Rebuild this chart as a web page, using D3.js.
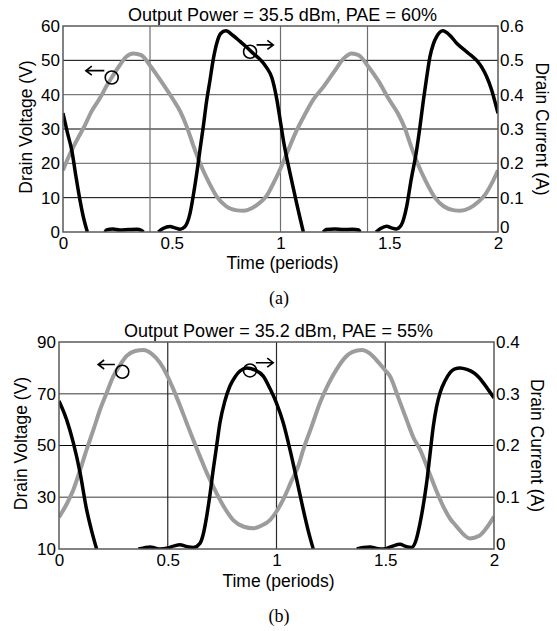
<!DOCTYPE html>
<html lang="en">
<head>
<meta charset="UTF-8">
<title>Drain waveforms</title>
<script src="https://d3js.org/d3.v7.min.js"></script>
<style>
  body { margin: 0; background: #fff; }
  svg { display: block; }
  .tick text { font: 17px "Liberation Sans", Arial, sans-serif; fill: #000; }
  .lbl { font: 17.5px "Liberation Sans", Arial, sans-serif; fill: #000; }
  .ttl { font: 18px "Liberation Sans", Arial, sans-serif; fill: #000; }
  .cap { font: 18px "Liberation Serif", "Times New Roman", serif; fill: #000; }
</style>
</head>
<body>
<svg id="chart" width="557" height="631"></svg>
<script>
// ---- panel (a) data ----
var timeTicks = [0, 0.5, 1, 1.5, 2];

var voltA_t = [0, 0.03, 0.07, 0.1, 0.13, 0.17, 0.2, 0.224, 0.26, 0.29, 0.323, 0.36, 0.4, 0.45, 0.507, 0.54, 0.569, 0.6, 0.63, 0.67, 0.707, 0.75, 0.8, 0.829, 0.87, 0.91, 0.936, 0.97,
               1.0, 1.03, 1.07, 1.11, 1.15, 1.2, 1.25, 1.29, 1.327, 1.36, 1.4, 1.45, 1.5, 1.54, 1.57, 1.6, 1.63, 1.67, 1.71, 1.75, 1.8, 1.825, 1.87, 1.91, 1.94, 1.97, 2.0];
var voltA_v = [18, 22.5, 27.5, 31, 35, 39, 42.5, 45, 48.5, 51, 52, 51.5, 48.5, 44, 38.5, 35, 30.7, 25, 20, 14.5, 10.3, 7.5, 6.3, 6.2, 7, 8.8, 10.5, 14.5,
               18.5, 23, 29, 34, 38.5, 42.5, 47, 50.5, 52, 51.5, 48.5, 44, 38.5, 34.5, 30.5, 25, 20, 14.5, 10, 7.5, 6.3, 6.2, 7, 8.8, 10.8, 14, 18];

// null = curve off the bottom of the scale
var currA_t = [0, 0.02, 0.04, 0.06, 0.078, 0.095, 0.112, 0.15, 0.193, 0.2, 0.23, 0.26, 0.3, 0.34, 0.36, 0.37, 0.4, 0.438, 0.46, 0.492, 0.515, 0.538, 0.56, 0.584, 0.6, 0.615, 0.63, 0.645, 0.66, 0.676, 0.69, 0.707, 0.725, 0.749, 0.78, 0.814, 0.845, 0.875, 0.91, 0.937, 0.96, 0.982,
               1.0, 1.013, 1.044, 1.074, 1.09, 1.105, 1.15, 1.197, 1.21, 1.25, 1.29, 1.33, 1.36, 1.366, 1.4, 1.439, 1.46, 1.488, 1.51, 1.533, 1.555, 1.58, 1.6, 1.626, 1.642, 1.657, 1.672, 1.687, 1.703, 1.718, 1.746, 1.78, 1.81, 1.85, 1.875, 1.902, 1.925, 1.948, 1.97, 1.99, 2.0];
var currA_i = [0.346, 0.29, 0.239, 0.16, 0.093, 0.04, 0, null, 0, 0.006, 0.009, 0.006, 0.007, 0.008, 0.005, 0, null, 0, 0.01, 0.016, 0.012, 0.008, 0.015, 0.054, 0.11, 0.171, 0.24, 0.307, 0.38, 0.443, 0.5, 0.55, 0.578, 0.586, 0.573, 0.555, 0.538, 0.52, 0.5, 0.478, 0.45, 0.39,
               0.32, 0.268, 0.171, 0.084, 0.04, 0, null, 0, 0.007, 0.009, 0.007, 0.008, 0.006, 0, null, 0, 0.01, 0.017, 0.012, 0.009, 0.02, 0.074, 0.15, 0.239, 0.31, 0.384, 0.45, 0.51, 0.548, 0.569, 0.586, 0.572, 0.55, 0.528, 0.515, 0.5, 0.48, 0.452, 0.415, 0.37, 0.346];

// ---- panel (b) data ----
var voltB_t = [0, 0.033, 0.066, 0.097, 0.127, 0.158, 0.189, 0.22, 0.25, 0.28, 0.311, 0.35, 0.388, 0.425, 0.464, 0.495, 0.526, 0.556, 0.587, 0.618, 0.648, 0.679, 0.709, 0.75, 0.801, 0.85, 0.893, 0.93, 0.97,
               1.0, 1.03, 1.07, 1.1, 1.123, 1.16, 1.2, 1.24, 1.277, 1.31, 1.35, 1.392, 1.43, 1.47, 1.5, 1.522, 1.56, 1.6, 1.63, 1.66, 1.7, 1.735, 1.767, 1.8, 1.82, 1.85, 1.89, 1.93, 1.96, 2.0];
var voltB_v = [22.3, 27, 32.9, 40.5, 48.4, 56, 63.9, 70.5, 76.8, 81, 84.6, 86.5, 86.9, 85.5, 82, 77.5, 71.7, 65.5, 58.7, 52, 45.8, 39.5, 34.2, 27.5, 21.2, 18.6, 18, 19, 21.2,
               24.5, 29, 36.5, 42, 48.4, 57, 66.5, 74, 79.5, 83.5, 86.2, 86.9, 85.5, 82, 79, 76.8, 68.5, 59.5, 53, 48.4, 40, 32.5, 26.4, 21.5, 19.5, 16.5, 14.1, 15, 17.5, 22.5];

var currB_t = [0, 0.035, 0.066, 0.097, 0.127, 0.15, 0.173, 0.25, 0.365, 0.39, 0.419, 0.44, 0.465, 0.5, 0.53, 0.556, 0.585, 0.618, 0.648, 0.664, 0.679, 0.694, 0.709, 0.725, 0.74, 0.762, 0.786, 0.81, 0.832, 0.863, 0.9, 0.939, 0.97,
               1.0, 1.031, 1.062, 1.093, 1.123, 1.146, 1.169, 1.25, 1.369, 1.4, 1.43, 1.46, 1.492, 1.53, 1.568, 1.595, 1.62, 1.64, 1.66, 1.675, 1.69, 1.705, 1.721, 1.736, 1.752, 1.775, 1.798, 1.82, 1.844, 1.875, 1.905, 1.93, 1.951, 1.975, 2.0];
var currB_i = [0.286, 0.25, 0.205, 0.147, 0.076, 0.035, 0, null, 0, 0.002, 0.004, 0.002, 0, 0.002, 0.006, 0.008, 0.005, 0.003, 0.011, 0.03, 0.063, 0.105, 0.153, 0.2, 0.244, 0.285, 0.315, 0.333, 0.344, 0.35, 0.346, 0.334, 0.31,
               0.282, 0.244, 0.192, 0.134, 0.076, 0.035, 0, null, 0, 0.003, 0.004, 0.001, 0, 0.005, 0.009, 0.005, 0.003, 0.015, 0.05, 0.085, 0.127, 0.18, 0.237, 0.275, 0.302, 0.325, 0.341, 0.348, 0.35, 0.347, 0.341, 0.332, 0.321, 0.307, 0.292];

var panels = [
  {
    title: "Output Power = 35.5 dBm, PAE = 60%", caption: "(a)",
    box: {left: 63, right: 498, top: 26, bottom: 232},
    vDomain: [0, 60], vTicks: [0, 10, 20, 30, 40, 50, 60],
    iDomain: [0, 0.6], iTicks: [0, 0.1, 0.2, 0.3, 0.4, 0.5, 0.6],
    hGrid: [10, 20, 30, 40, 50], hGridGray: [20, 40],
    vGrid: [0.4, 1, 1.4], vGridColor: "#6e6e6e",
    volt: [voltA_t, voltA_v], curr: [currA_t, currA_i],
    vMark: {t: 0.224, v: 45, a0: 0.19, a1: 0.105, av: 47},
    iMark: {t: 0.86, i: 0.525, a0: 0.89, a1: 0.967, ai: 0.545},
    titleY: 21, vLabelX: 26, iLabelX: 542, timeY: 269, capY: 304
  },
  {
    title: "Output Power = 35.2 dBm, PAE = 55%", caption: "(b)",
    box: {left: 59, right: 494, top: 342, bottom: 549},
    vDomain: [10, 90], vTicks: [10, 30, 50, 70, 90],
    iDomain: [0, 0.4], iTicks: [0, 0.1, 0.2, 0.3, 0.4],
    hGrid: [30, 50, 70], hGridGray: [30, 70],
    vGrid: [0.5, 1, 1.5], vGridColor: "#2a2a2a",
    volt: [voltB_t, voltB_v], curr: [currB_t, currB_i],
    vMark: {t: 0.291, v: 78.5, a0: 0.257, a1: 0.18, av: 81.3},
    iMark: {t: 0.878, i: 0.345, a0: 0.905, a1: 0.985, ai: 0.36},
    titleY: 337, vLabelX: 21, iLabelX: 537, timeY: 587, capY: 622
  }
];

var svg = d3.select("#chart");
var defs = svg.append("defs");

panels.forEach(function(p, k) {
  var b = p.box;
  var x = d3.scaleLinear().domain([0, 2]).range([b.left, b.right]);
  var yV = d3.scaleLinear().domain(p.vDomain).range([b.bottom, b.top]);
  var yI = d3.scaleLinear().domain(p.iDomain).range([b.bottom, b.top]);
  var g = svg.append("g");

  defs.append("clipPath").attr("id", "clip" + k)
    .append("rect")
    .attr("x", b.left).attr("y", b.top - 10)
    .attr("width", b.right - b.left).attr("height", b.bottom - b.top + 10);

  // grid
  g.selectAll(".hg").data(p.hGrid).enter().append("line")
    .attr("x1", b.left).attr("x2", b.right)
    .attr("y1", function(d) { return yV(d); }).attr("y2", function(d) { return yV(d); })
    .attr("stroke", function(d) { return p.hGridGray.indexOf(d) >= 0 ? "#7a7a7a" : "#000"; })
    .attr("stroke-width", function(d) { return p.hGridGray.indexOf(d) >= 0 ? 1.4 : 1; });
  g.selectAll(".vg").data(p.vGrid).enter().append("line")
    .attr("y1", b.top).attr("y2", b.bottom)
    .attr("x1", function(d) { return x(d); }).attr("x2", function(d) { return x(d); })
    .attr("stroke", p.vGridColor).attr("stroke-width", 1.2);

  // curves
  var voltPts = p.volt[0].map(function(t, i) { return [t, p.volt[1][i]]; });
  var currPts = p.curr[0].map(function(t, i) { return [t, p.curr[1][i]]; });
  var cg = g.append("g").attr("clip-path", "url(#clip" + k + ")");
  cg.append("path").datum(voltPts)
    .attr("fill", "none").attr("stroke", "#9c9c9c").attr("stroke-width", 4)
    .attr("d", d3.line().curve(d3.curveMonotoneX)
      .x(function(d) { return x(d[0]); }).y(function(d) { return yV(d[1]); }));
  cg.append("path").datum(currPts)
    .attr("fill", "none").attr("stroke", "#000").attr("stroke-width", 3.5)
    .attr("d", d3.line().curve(d3.curveMonotoneX)
      .defined(function(d) { return d[1] !== null; })
      .x(function(d) { return x(d[0]); }).y(function(d) { return yI(d[1]); }));

  // frame
  g.append("rect")
    .attr("x", b.left).attr("y", b.top)
    .attr("width", b.right - b.left).attr("height", b.bottom - b.top)
    .attr("fill", "none").attr("stroke", "#5a5a5a").attr("stroke-width", 1.5);

  // axes (labels only)
  var ax = g.append("g").attr("transform", "translate(0," + b.bottom + ")")
    .call(d3.axisBottom(x).tickValues(timeTicks).tickSize(0).tickPadding(5).tickFormat(d3.format("")));
  var al = g.append("g").attr("transform", "translate(" + b.left + ",0)")
    .call(d3.axisLeft(yV).tickValues(p.vTicks).tickSize(0).tickPadding(3));
  var ar = g.append("g").attr("transform", "translate(" + b.right + ",0)")
    .call(d3.axisRight(yI).tickValues(p.iTicks).tickSize(0).tickPadding(2).tickFormat(d3.format("")));
  [ax, al, ar].forEach(function(a) { a.select(".domain").remove(); a.attr("font-family", null).attr("font-size", null); });
  // right-hand zero sits a little above the corner
  ar.selectAll(".tick text").filter(function(d) { return d === 0; }).attr("dy", "0.05em");

  // titles
  g.append("text").attr("class", "ttl").attr("x", (b.left + b.right) / 2 + 2).attr("y", p.titleY)
    .attr("text-anchor", "middle").text(p.title);
  g.append("text").attr("class", "lbl").attr("x", (b.left + b.right) / 2 + 2).attr("y", p.timeY)
    .attr("text-anchor", "middle").text("Time (periods)");
  g.append("text").attr("class", "lbl")
    .attr("transform", "translate(" + p.vLabelX + "," + ((b.top + b.bottom) / 2 - 2) + ") rotate(-90)")
    .attr("text-anchor", "middle").attr("dy", "0.35em").text("Drain Voltage (V)");
  g.append("text").attr("class", "lbl")
    .attr("transform", "translate(" + p.iLabelX + "," + (b.top + b.bottom) / 2 + ") rotate(90)")
    .attr("text-anchor", "middle").attr("dy", "0.35em").text("Drain Current (A)");
  g.append("text").attr("class", "cap").attr("x", 279).attr("y", p.capY)
    .attr("text-anchor", "middle").text(p.caption);

  // series markers: circle + arrow pointing at the axis to read
  function marker(cx, cy, xa, xb, ya) {
    g.append("circle").attr("cx", cx).attr("cy", cy).attr("r", 6.5)
      .attr("fill", "none").attr("stroke", "#000").attr("stroke-width", 1.6);
    var dir = xb > xa ? 1 : -1;
    g.append("path")
      .attr("d", "M" + xa + "," + ya + "H" + xb +
        "M" + (xb - dir * 6) + "," + (ya - 4.5) + "L" + xb + "," + ya + "L" + (xb - dir * 6) + "," + (ya + 4.5))
      .attr("fill", "none").attr("stroke", "#000").attr("stroke-width", 1.6);
  }
  marker(x(p.vMark.t), yV(p.vMark.v), x(p.vMark.a0), x(p.vMark.a1), yV(p.vMark.av));
  marker(x(p.iMark.t), yI(p.iMark.i), x(p.iMark.a0), x(p.iMark.a1), yI(p.iMark.ai));
});
</script>
</body>
</html>
